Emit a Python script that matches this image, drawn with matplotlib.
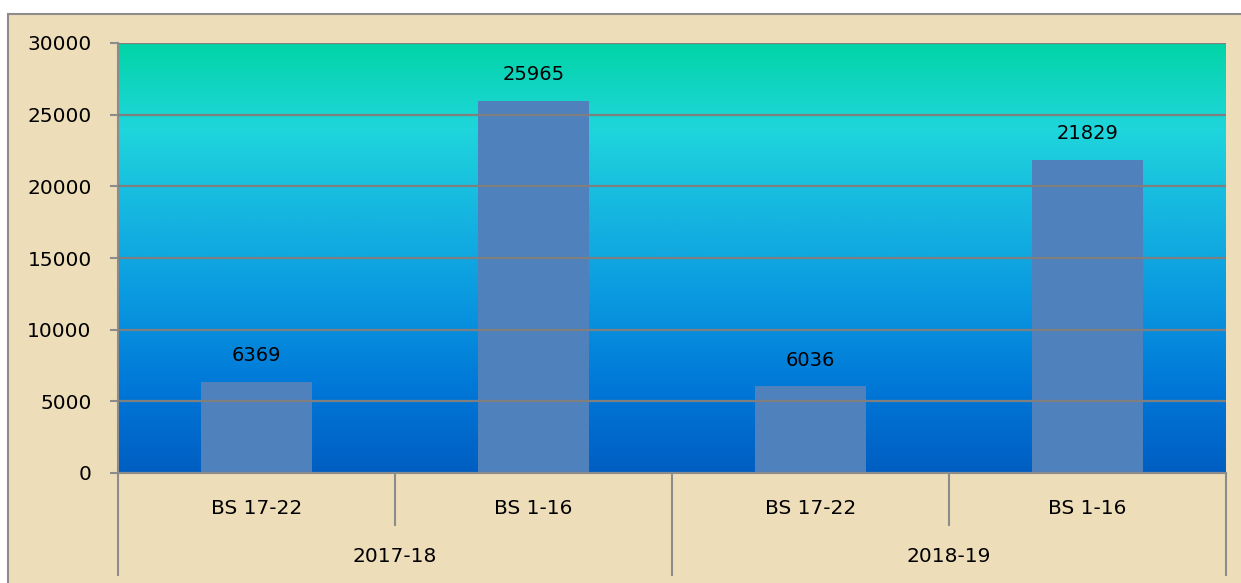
import numpy as np
import matplotlib
matplotlib.use("Agg")
import matplotlib.pyplot as plt
from matplotlib.colors import LinearSegmentedColormap
from matplotlib.patches import Rectangle
import matplotlib.transforms as mtransforms

# data
bars = ["BS 17-22", "BS 1-16", "BS 17-22", "BS 1-16"]
years = ["2017-18", "2018-19"]
values = [6369, 25965, 6036, 21829]

W, H = 1241, 583
fig = plt.figure(figsize=(W / 100, H / 100), dpi=100)
fig.patch.set_facecolor("white")

# parchment panel with grey border
bg = Rectangle((8 / W, -0.01), 1.0, 1 - 14 / H + 0.01, transform=fig.transFigure,
               facecolor="#EEDDB9", edgecolor="#8C8C8C", linewidth=1.5, zorder=-10)
fig.patches.append(bg)

ax = fig.add_axes([118 / W, 1 - 473 / H, (1226 - 118) / W, (473 - 43) / H])
ax.set_facecolor("none")

x = np.arange(len(values))
ax.set_xlim(-0.5, len(values) - 0.5)
ax.set_ylim(0, 30000)

# gradient fill of the plot area
cmap = LinearSegmentedColormap.from_list("plotbg", [
    (0.0, "#005EC2"),
    (0.2, "#0078D8"),
    (0.4, "#0A98E0"),
    (0.62, "#16B8E0"),
    (0.8, "#1FD6DC"),
    (1.0, "#02D4A6"),
])
grad = np.linspace(0, 1, 256).reshape(-1, 1)
ax.imshow(grad, cmap=cmap, origin="lower", aspect="auto",
          extent=(-0.5, len(values) - 0.5, 0, 30000), zorder=0)

ax.set_yticks(np.arange(0, 30001, 5000))
ax.yaxis.grid(True, color="#7F7F7F", linewidth=1.6, zorder=1)
ax.set_axisbelow(False)
for gl in ax.get_ygridlines():
    gl.set_zorder(1)

ax.bar(x, values, width=0.4, color="#4F81BD", zorder=2)

for xi, v in zip(x, values):
    ax.annotate(str(v), (xi, v), xytext=(0, 19), textcoords="offset points",
                ha="center", va="center", fontsize=14, color="black", zorder=3)

for s in ["top", "right", "bottom"]:
    ax.spines[s].set_visible(False)
ax.spines["left"].set_color("#8C8C8C")
ax.spines["left"].set_linewidth(1.5)

ax.tick_params(axis="y", length=6, width=1.5, color="#8C8C8C", pad=13,
               labelsize=14.5, direction="out")
ax.tick_params(axis="x", length=0, labelbottom=False)

# two-level category axis
trans = mtransforms.blended_transform_factory(ax.transData, ax.transAxes)
ph = 473 - 43
ax.plot([-0.5, len(values) - 0.5], [0, 0], transform=trans, color="#8C8C8C",
        linewidth=1.5, clip_on=False, zorder=4)
for sep in [0.5, 2.5]:
    ax.plot([sep, sep], [0, -52 / ph], transform=trans, color="#8C8C8C",
            linewidth=1.5, clip_on=False)
for sep in [-0.5, 1.5, 3.5]:
    ax.plot([sep, sep], [0, -102 / ph], transform=trans, color="#8C8C8C",
            linewidth=1.5, clip_on=False)
for xi, lab in zip(x, bars):
    ax.text(xi, -35 / ph, lab, transform=trans, ha="center", va="center", fontsize=14.5)
for i, yr in enumerate(years):
    ax.text(2 * i + 0.5, -84 / ph, yr, transform=trans, ha="center", va="center", fontsize=14.5)

fig.savefig("out.png", dpi=100)
